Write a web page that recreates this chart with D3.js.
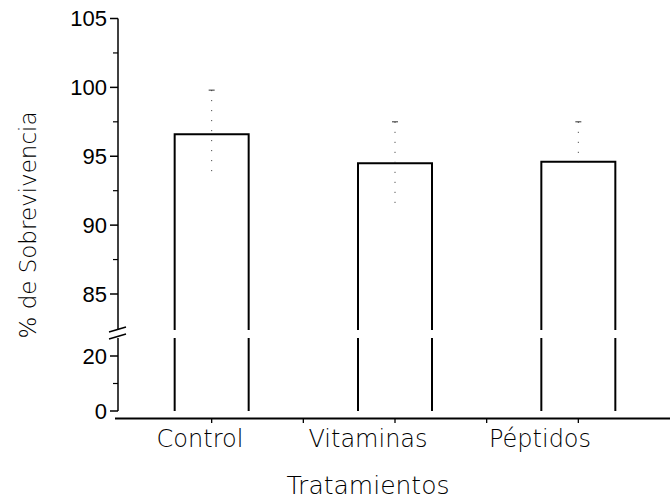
<!DOCTYPE html>
<html lang="es">
<head>
<meta charset="UTF-8">
<title>% de Sobrevivencia por tratamiento</title>
<script src="https://d3js.org/d3.v7.min.js"></script>
<style>
  body { margin: 0; background: #fff; }
  .hand { font-family: "DejaVu Sans", sans-serif; font-weight: 200; }
  .num { font-family: "Liberation Sans", Arial, sans-serif; }
</style>
</head>
<body>
<div id="chart"></div>
<script>
// data
const categories = ["Control", "Vitaminas", "Péptidos"];
const survival = [96.6, 94.5, 94.6];
const errLow = [93.3, 91.6, 94.1];
const errHigh = [99.8, 97.5, 97.5];
const upperTicks = [85, 90, 95, 100, 105];
const lowerTicks = [0, 20];

const width = 670, height = 501;
const axisX = 118;

const svg = d3.select("#chart").append("svg")
  .attr("width", width)
  .attr("height", height);

// broken y axis: two scales
const yTop = d3.scaleLinear().domain([85, 105]).range([294, 18.5]);
const yBot = d3.scaleLinear().domain([0, 20]).range([411, 356]);
const topMin = yTop.invert(330);   // where upper segment stops
const botMax = yBot.invert(338);   // where lower segment stops

const x = d3.scalePoint().domain(categories).range([120, 670]).padding(0.5);
const barW = 74;

// upper axis
const gTop = svg.append("g").attr("transform", `translate(${axisX},0)`);
gTop.append("line").attr("y1", yTop(105)).attr("y2", yTop(topMin))
  .attr("stroke", "#000").attr("stroke-width", 1.5);
gTop.selectAll(".minor").data(d3.range(87.5, 105, 5)).enter().append("line")
  .attr("x1", -5).attr("x2", 0).attr("y1", d => yTop(d)).attr("y2", d => yTop(d))
  .attr("stroke", "#000").attr("stroke-width", 1.2);
gTop.selectAll(".major").data(upperTicks).enter().append("line")
  .attr("x1", -8).attr("x2", 0).attr("y1", d => yTop(d)).attr("y2", d => yTop(d))
  .attr("stroke", "#000").attr("stroke-width", 1.5);
gTop.selectAll("text").data(upperTicks).enter().append("text")
  .attr("class", "num")
  .attr("x", -11).attr("y", d => yTop(d)).attr("dy", "0.35em")
  .attr("text-anchor", "end").attr("font-size", 22)
  .text(d => d);

// lower axis
const gBot = svg.append("g").attr("transform", `translate(${axisX},0)`);
gBot.append("line").attr("y1", yBot(botMax)).attr("y2", yBot(0))
  .attr("stroke", "#000").attr("stroke-width", 1.5);
gBot.append("line").attr("x1", -5).attr("x2", 0).attr("y1", yBot(10)).attr("y2", yBot(10))
  .attr("stroke", "#000").attr("stroke-width", 1.2);
gBot.selectAll(".major").data(lowerTicks).enter().append("line")
  .attr("x1", -8).attr("x2", 0).attr("y1", d => yBot(d)).attr("y2", d => yBot(d))
  .attr("stroke", "#000").attr("stroke-width", 1.5);
gBot.selectAll("text").data(lowerTicks).enter().append("text")
  .attr("class", "num")
  .attr("x", -11).attr("y", d => yBot(d)).attr("dy", "0.35em")
  .attr("text-anchor", "end").attr("font-size", 22)
  .text(d => d);

// break marks
[0, 7].forEach(off => {
  svg.append("line")
    .attr("x1", axisX - 9).attr("y1", 332 + off)
    .attr("x2", axisX + 8).attr("y2", 327 + off)
    .attr("stroke", "#000").attr("stroke-width", 1.5);
});

// x axis
svg.append("line").attr("x1", 115).attr("x2", 670).attr("y1", 418.5).attr("y2", 418.5)
  .attr("stroke", "#000").attr("stroke-width", 1.8);
const step = x.step();
const xTicks = categories.map(c => x(c)).concat(categories.slice(1).map(c => x(c) - step / 2));
svg.selectAll(".xtick").data(xTicks).enter().append("line")
  .attr("x1", d => d).attr("x2", d => d).attr("y1", 418).attr("y2", 423)
  .attr("stroke", "#000").attr("stroke-width", 1.3);

// bars: lower part (no fill, side lines only)
const bars = categories.map((c, i) => ({ c, v: survival[i], lo: errLow[i], hi: errHigh[i] }));
bars.forEach(d => {
  const x0 = x(d.c) - barW / 2, x1 = x(d.c) + barW / 2;
  [x0, x1].forEach(xx => {
    svg.append("line").attr("x1", xx).attr("x2", xx)
      .attr("y1", yBot(0)).attr("y2", yBot(botMax))
      .attr("stroke", "#000").attr("stroke-width", 2);
  });
  svg.append("path")
    .attr("d", `M${x0},${yTop(topMin)}V${yTop(d.v)}H${x1}V${yTop(topMin)}`)
    .attr("fill", "none").attr("stroke", "#000").attr("stroke-width", 2);
  // error bar, dotted
  svg.append("line").attr("x1", x(d.c)).attr("x2", x(d.c))
    .attr("y1", yTop(d.hi)).attr("y2", yTop(d.lo))
    .attr("stroke", "#333").attr("stroke-width", 1)
    .attr("stroke-dasharray", "1,9");
  svg.append("line").attr("x1", x(d.c) - 3).attr("x2", x(d.c) + 3)
    .attr("y1", yTop(d.hi)).attr("y2", yTop(d.hi))
    .attr("stroke", "#333").attr("stroke-width", 1);
});

// category labels
const labelX = [200, 368, 540];
svg.selectAll(".cat").data(categories).enter().append("text")
  .attr("class", "hand")
  .attr("x", (d, i) => labelX[i]).attr("y", 447)
  .attr("text-anchor", "middle").attr("font-size", 24)
  .text(d => d);

// axis titles
svg.append("text").attr("class", "hand")
  .attr("x", 368).attr("y", 494)
  .attr("text-anchor", "middle").attr("font-size", 25)
  .text("Tratamientos");

svg.append("text").attr("class", "hand")
  .attr("transform", "translate(36,225) rotate(-90)")
  .attr("text-anchor", "middle").attr("font-size", 23)
  .text("% de Sobrevivencia");
</script>
</body>
</html>
